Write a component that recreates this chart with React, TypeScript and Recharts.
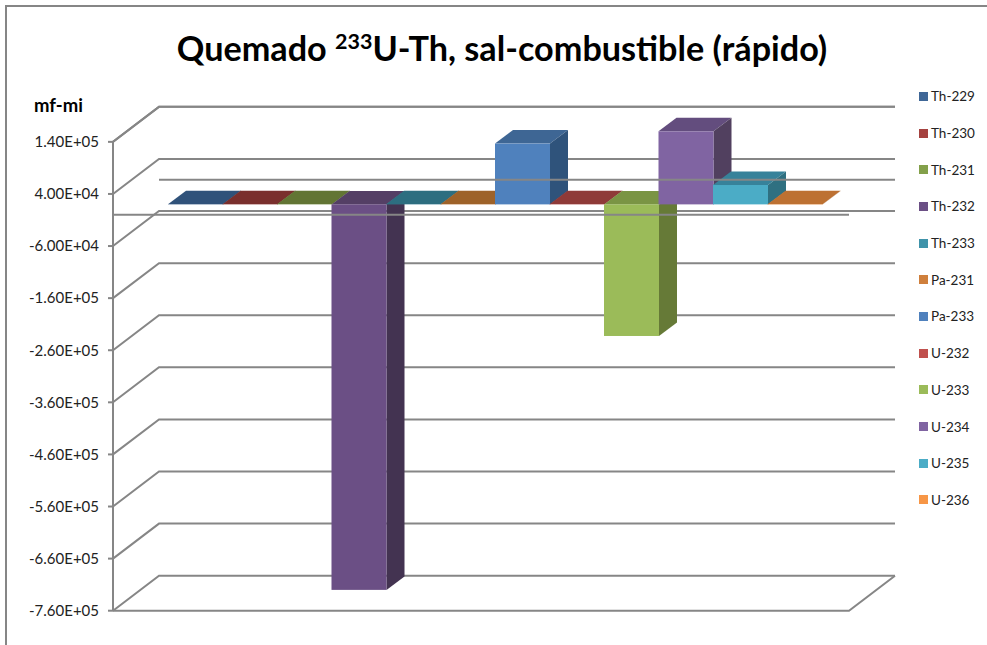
import { BarChart, Bar, XAxis, YAxis, CartesianGrid, ReferenceLine, Legend } from "recharts";

const isotopes = ["Th-229", "Th-230", "Th-231", "Th-232", "Th-233", "Pa-231", "Pa-233", "U-232", "U-233", "U-234", "U-235", "U-236"];
const deltas = [300, 300, 300, -740000, 300, 300, 116700, 300, -252600, 140300, 37200, 500];
const fronts = ["#3F6797", "#A5423F", "#83A04A", "#6B4F85", "#3F93AA", "#CF7F3C", "#4F81BD", "#C0504D", "#9BBB59", "#8064A2", "#4BACC6", "#F79646"];
const tops = ["#30527A", "#7A2F2D", "#627534", "#543F65", "#2D6E80", "#9E6229", "#3E6694", "#8F3A38", "#7A9444", "#634D7E", "#37829A", "#BD7132"];
const sides = ["#2A4667", "#652725", "#52632B", "#433351", "#275D6B", "#824F20", "#2F537B", "#773130", "#667A37", "#51405F", "#2F7081", "#9C5D28"];
const yTicks = [140000, 40000, -60000, -160000, -260000, -360000, -460000, -560000, -660000, -760000];
const yLabels = ["1.40E+05", "4.00E+04", "-6.00E+04", "-1.60E+05", "-2.60E+05", "-3.60E+05", "-4.60E+05", "-5.60E+05", "-6.60E+05", "-7.60E+05"];

const data = isotopes.map((name, i) => ({ name, delta: deltas[i] }));

const GRAY = "#868686";
const FONT = "Lato, sans-serif";

function gridLine(p: any) {
  return (
    <polyline
      key={p.key ?? p.y1}
      points={`${p.x1},${p.y1} ${p.x1 + 46},${p.y1 - 35} ${p.x2 + 18},${p.y1 - 35}`}
      fill="none"
      stroke={GRAY}
      strokeWidth={2}
    />
  );
}

function backZero(p: any) {
  return <line x1={p.x1 + 46} y1={p.y1 - 35} x2={p.x2 + 18} y2={p.y1 - 35} stroke={GRAY} strokeWidth={2} />;
}

function frontLine(p: any) {
  return <line x1={p.x1} y1={p.y1} x2={p.x2 - 28} y2={p.y1} stroke={GRAY} strokeWidth={2} />;
}

function floorLine(p: any) {
  return (
    <polyline
      points={`${p.x1},${p.y1} ${p.x2 - 28},${p.y1} ${p.x2 + 18},${p.y1 - 35}`}
      fill="none"
      stroke={GRAY}
      strokeWidth={2}
    />
  );
}

function Box(p: any) {
  const lift = 10.4;
  const dx = 18;
  const dy = -13.5;
  const w = p.width;
  const a = Math.min(p.y, p.y + p.height) - lift;
  const b = Math.max(p.y, p.y + p.height) - lift;
  const l = p.x;
  const r = p.x + w;
  return (
    <g>
      <polygon points={`${l},${a} ${r},${a} ${r + dx},${a + dy} ${l + dx},${a + dy}`} fill={tops[p.index]} />
      <polygon points={`${r},${a} ${r + dx},${a + dy} ${r + dx},${b + dy} ${r},${b}`} fill={sides[p.index]} />
      <rect x={l} y={a} width={w} height={b - a} fill={fronts[p.index]} />
    </g>
  );
}

function LegendList() {
  return (
    <div style={{ position: "absolute", left: 0, top: 0 }}>
      {isotopes.map((name, i) => (
        <div
          key={name}
          style={{ height: 36.7, display: "flex", alignItems: "center", fontFamily: FONT, fontSize: 13.5, color: "#222" }}
        >
          <span style={{ width: 9, height: 9, marginRight: 3, background: fronts[i] }} />
          {name}
        </div>
      ))}
    </div>
  );
}

export default function App() {
  return (
    <div style={{ position: "absolute", left: 0, top: 0, width: 987, height: 645, background: "#fff", overflow: "hidden" }}>
      <div style={{ position: "absolute", left: 5, top: 5, right: -2, bottom: -2, borderLeft: `2px solid ${GRAY}`, borderTop: `2px solid ${GRAY}` }} />
      <div style={{ position: "absolute", left: 17, right: 0, top: 27, textAlign: "center", fontFamily: FONT, fontWeight: 700, fontSize: 34.2, color: "#000" }}>
        Quemado <sup style={{ fontSize: 21.5, lineHeight: 0 }}>233</sup>U-Th, sal-combustible (rápido)
      </div>
      <div style={{ position: "absolute", left: 34, top: 94, fontFamily: FONT, fontWeight: 700, fontSize: 18.5, color: "#000" }}>
        mf-mi
      </div>
      <BarChart
        width={987}
        height={645}
        data={data}
        margin={{ top: 141.7, right: 42, bottom: 34.3, left: 0 }}
        barCategoryGap={0}
      >
        <CartesianGrid vertical={false} horizontal={gridLine} stroke={GRAY} />
        <XAxis dataKey="name" hide padding={{ left: 55, right: 55 }} />
        <YAxis
          width={113}
          type="number"
          domain={[-760000, 140000]}
          ticks={yTicks}
          interval={0}
          tickFormatter={(v: number) => yLabels[yTicks.indexOf(v)]}
          axisLine={{ stroke: GRAY, strokeWidth: 2 }}
          tickLine={{ stroke: GRAY, strokeWidth: 2 }}
          tickSize={5}
          tickMargin={9}
          tick={{ fontFamily: FONT, fontSize: 15, fill: "#222" }}
        />
        <ReferenceLine y={0} shape={backZero} />
        <ReferenceLine y={-760000} shape={floorLine} />
        <Bar dataKey="delta" shape={Box} isAnimationActive={false} />
        <ReferenceLine y={0} shape={frontLine} />
        <Legend
          layout="vertical"
          align="right"
          verticalAlign="top"
          content={LegendList}
          wrapperStyle={{ position: "absolute", left: 919, top: 78, width: 68, height: 450 }}
        />
      </BarChart>
    </div>
  );
}
